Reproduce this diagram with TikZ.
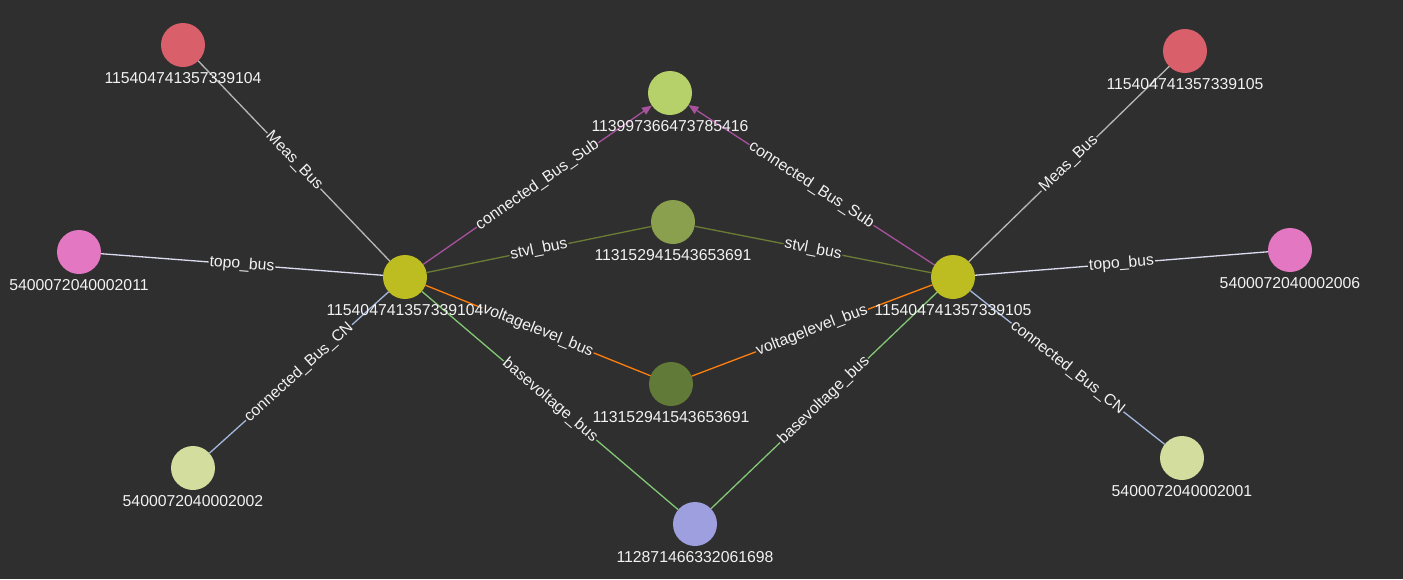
\documentclass[tikz,border=0pt]{standalone}
\usepackage{xcolor}
\usepackage{fontspec}
\setmainfont{Liberation Sans}
\usetikzlibrary{positioning,arrows.meta}

\definecolor{bgcol}{HTML}{2F2F2F}
\definecolor{txtcol}{HTML}{F2F2F2}
\definecolor{measred}{HTML}{D9606A}
\definecolor{subgreen}{HTML}{B6D16A}
\definecolor{stvlgreen}{HTML}{8BA04E}
\definecolor{busyellow}{HTML}{BDBD22}
\definecolor{topopink}{HTML}{E377C2}
\definecolor{vlgreen}{HTML}{627A37}
\definecolor{cnpale}{HTML}{D3DE9E}
\definecolor{bvblue}{HTML}{9E9FDE}
\definecolor{measline}{HTML}{B8B8B8}
\definecolor{topoline}{HTML}{DCDCF0}
\definecolor{subline}{HTML}{A8529E}
\definecolor{stvlline}{HTML}{6B7D35}
\definecolor{vlline}{HTML}{FF7F0E}
\definecolor{bvline}{HTML}{82C874}
\definecolor{cnline}{HTML}{A4B8DC}

\tikzset{
	bus/.style={circle,minimum size=44pt,outer sep=0pt},
	lbl/.style={text=txtcol},
	elabel/.style={text=txtcol,fill=bgcol,inner sep=1pt,sloped,midway},
	conn/.style={line width=1.3pt}
}

\begin{document}
\begin{tikzpicture}[x=1pt,y=1pt,font=\fontsize{15.8}{18}\selectfont]
	\tikzstyle{every node}+=[inner sep=0pt]
	\fill [bgcol] (0,0) rectangle (1403,-579);
	\node [bus,fill=measred] (m104) at (183,-45) {};
	\node [bus,fill=measred] (m105) at (1185,-51) {};
	\node [bus,fill=subgreen] (sub) at (670,-93) {};
	\node [bus,fill=stvlgreen] (stvl) at (673,-222) {};
	\node [bus,fill=topopink] (tp2011) at (79,-252) {};
	\node [bus,fill=topopink] (tp2006) at (1290,-250) {};
	\node [bus,fill=busyellow] (bus104) at (405,-277) {};
	\node [bus,fill=busyellow] (bus105) at (953,-277) {};
	\node [bus,fill=vlgreen] (vlev) at (671,-384) {};
	\node [bus,fill=cnpale] (cn2002) at (193,-468) {};
	\node [bus,fill=cnpale] (cn2001) at (1182,-458) {};
	\node [bus,fill=bvblue] (bv) at (695,-524) {};
	% left bus
	\draw [conn,measline] (bus104) -- node [elabel] {Meas\_Bus} (m104);
	\draw [conn,topoline] (tp2011) -- node [elabel] {topo\_bus} (bus104);
	\draw [conn,subline,-{Triangle[length=10pt,width=8pt]}] (bus104) -- node [elabel] {connected\_Bus\_Sub} (sub);
	\draw [conn,stvlline] (bus104) -- node [elabel] {stvl\_bus} (stvl);
	\draw [conn,vlline] (bus104) -- node [elabel] {voltagelevel\_bus} (vlev);
	\draw [conn,bvline] (bus104) -- node [elabel] {basevoltage\_bus} (bv);
	\draw [conn,cnline] (cn2002) -- node [elabel] {connected\_Bus\_CN} (bus104);
	% right bus
	\draw [conn,measline] (bus105) -- node [elabel] {Meas\_Bus} (m105);
	\draw [conn,topoline] (bus105) -- node [elabel] {topo\_bus} (tp2006);
	\draw [conn,subline,-{Triangle[length=10pt,width=8pt]}] (bus105) -- node [elabel] {connected\_Bus\_Sub} (sub);
	\draw [conn,stvlline] (stvl) -- node [elabel] {stvl\_bus} (bus105);
	\draw [conn,vlline] (vlev) -- node [elabel] {voltagelevel\_bus} (bus105);
	\draw [conn,bvline] (bv) -- node [elabel] {basevoltage\_bus} (bus105);
	\draw [conn,cnline] (bus105) -- node [elabel] {connected\_Bus\_CN} (cn2001);
	% ids
	\node [lbl,below=5.5pt of m104] (m104-l) {115404741357339104};
	\node [lbl,below=5.5pt of m105] (m105-l) {115404741357339105};
	\node [lbl,below=5.5pt of sub] (sub-l) {113997366473785416};
	\node [lbl,below=5.5pt of stvl] (stvl-l) {113152941543653691};
	\node [lbl,below=5.5pt of tp2011] (tp2011-l) {5400072040002011};
	\node [lbl,below=5.5pt of tp2006] (tp2006-l) {5400072040002006};
	\node [lbl,below=5.5pt of bus104] (bus104-l) {115404741357339104};
	\node [lbl,below=5.5pt of bus105] (bus105-l) {115404741357339105};
	\node [lbl,below=5.5pt of vlev] (vlev-l) {113152941543653691};
	\node [lbl,below=5.5pt of cn2002] (cn2002-l) {5400072040002002};
	\node [lbl,below=5.5pt of cn2001] (cn2001-l) {5400072040002001};
	\node [lbl,below=5.5pt of bv] (bv-l) {112871466332061698};
\end{tikzpicture}
\end{document}
